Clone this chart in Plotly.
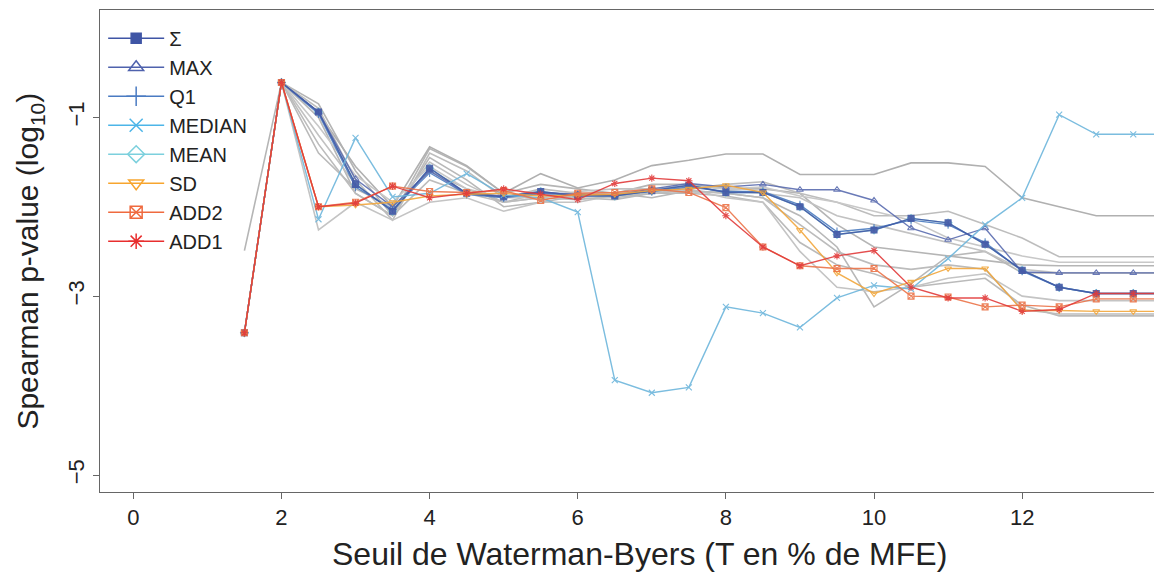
import plotly.graph_objects as go

# x positions (Waterman-Byers threshold, % of MFE)
x_vals = [1.5, 2, 2.5, 3, 3.5, 4, 4.5, 5, 5.5, 6, 6.5, 7, 7.5, 8, 8.5, 9, 9.5, 10,
          10.5, 11, 11.5, 12, 12.5, 13, 13.5, 14]

sigma = [-3.41, -0.61, -0.94, -1.75, -2.05, -1.57, -1.85, -1.89, -1.83, -1.88, -1.88, -1.82, -1.76,
         -1.84, -1.84, -2.00, -2.31, -2.26, -2.13, -2.18, -2.42, -2.71, -2.90, -2.97, -2.97, -2.97]
vmax = [-3.41, -0.61, -0.94, -1.69, -2.00, -1.60, -1.85, -1.88, -1.84, -1.86, -1.87, -1.80, -1.74,
        -1.78, -1.75, -1.81, -1.81, -1.93, -2.24, -2.37, -2.24, -2.73, -2.74, -2.74, -2.74, -2.74]
q1 = [-3.41, -0.61, -0.96, -1.78, -2.03, -1.62, -1.86, -1.90, -1.85, -1.87, -1.87, -1.83, -1.78,
      -1.83, -1.83, -1.98, -2.28, -2.24, -2.15, -2.20, -2.40, -2.72, -2.90, -2.97, -2.97, -2.97]
median = [-3.41, -0.61, -2.14, -1.23, -1.89, -1.85, -1.63, -1.87, -1.90, -2.06, -3.94, -4.08, -4.02,
          -3.12, -3.19, -3.35, -3.02, -2.88, -2.92, -2.58, -2.20, -1.90, -0.97, -1.19, -1.19, -1.19]
mean = [-3.41, -0.61, -0.94, -1.75, -2.05, -1.57, -1.85, -1.89, -1.83, -1.88, -1.88, -1.82, -1.76,
        -1.84, -1.84, -2.00, -2.31, -2.26, -2.13, -2.18, -2.42, -2.71, -2.90, -2.97, -2.97, -2.97]
sd = [-3.41, -0.61, -2.00, -1.98, -1.95, -1.88, -1.86, -1.85, -1.88, -1.87, -1.86, -1.82, -1.80,
      -1.76, -1.84, -2.26, -2.74, -2.97, -2.84, -2.69, -2.69, -3.16, -3.16, -3.17, -3.17, -3.17]
add2 = [-3.41, -0.61, -2.00, -1.95, -1.77, -1.83, -1.84, -1.82, -1.93, -1.85, -1.84, -1.80, -1.84,
        -2.01, -2.45, -2.66, -2.69, -2.69, -3.00, -3.01, -3.12, -3.10, -3.12, -3.03, -3.03, -3.03]
add1 = [-3.41, -0.61, -2.00, -1.96, -1.77, -1.90, -1.85, -1.80, -1.86, -1.92, -1.74, -1.68, -1.71,
        -2.10, -2.45, -2.66, -2.55, -2.49, -2.90, -3.02, -3.02, -3.17, -3.15, -2.97, -2.97, -2.97]

# background (unlabelled) series in grey
grey_series = [
    [-2.49, -0.61, -0.85, -1.60, -2.10, -1.35, -1.55, -1.85, -1.75, -1.80, -1.85, -1.75, -1.75,
     -1.80, -1.80, -1.85, -2.20, -2.45, -2.50, -2.55, -2.60, -2.65, -2.66, -2.66, -2.66, -2.66],
    [None, -0.61, -0.95, -1.55, -2.00, -1.33, -1.54, -1.85, -1.63, -1.79, -1.70, -1.54, -1.48,
     -1.41, -1.41, -1.64, -1.64, -1.64, -1.51, -1.51, -1.55, -1.90, -2.00, -2.10, -2.10, -2.10],
    [None, -0.61, -0.90, -1.70, -2.15, -1.40, -1.60, -1.90, -1.80, -1.85, -1.90, -1.85, -1.80,
     -1.75, -1.72, -1.85, -1.95, -2.10, -2.10, -2.05, -2.20, -2.35, -2.56, -2.56, -2.56, -2.56],
    [None, -0.61, -1.00, -1.85, -2.10, -1.45, -1.70, -2.00, -1.95, -1.88, -1.85, -1.90, -1.82,
     -1.85, -1.90, -2.10, -2.45, -3.12, -2.86, -2.55, -2.50, -2.74, -2.74, -2.74, -2.74, -2.74],
    [None, -0.61, -1.20, -1.75, -2.05, -1.50, -1.75, -1.95, -1.90, -1.83, -1.80, -1.80, -1.85,
     -1.82, -1.85, -1.90, -2.10, -2.20, -2.30, -2.40, -2.50, -2.70, -2.74, -2.74, -2.74, -2.74],
    [None, -0.61, -1.40, -1.80, -2.00, -1.60, -1.80, -1.95, -1.85, -1.90, -1.92, -1.85, -1.85,
     -1.88, -1.95, -2.40, -2.65, -2.75, -2.90, -2.85, -2.80, -3.10, -3.22, -3.22, -3.22, -3.22],
    [None, -0.61, -2.26, -1.95, -2.15, -1.95, -1.90, -2.05, -1.95, -1.95, -1.87, -1.83, -1.80,
     -1.90, -1.95, -2.50, -2.90, -2.95, -2.90, -2.80, -2.75, -3.00, -3.05, -3.05, -3.05, -3.05],
    [None, -0.61, -1.10, -1.65, -1.95, -1.55, -1.80, -1.90, -1.90, -1.85, -1.85, -1.80, -1.77,
     -1.80, -1.78, -1.88, -1.95, -2.05, -2.15, -2.35, -2.45, -2.55, -2.62, -2.62, -2.62, -2.62],
    [None, -0.61, -1.30, -1.85, -2.10, -1.70, -1.85, -1.95, -1.90, -1.92, -1.88, -1.85, -1.82,
     -1.85, -1.90, -2.20, -2.50, -2.65, -2.70, -2.65, -2.70, -3.15, -3.20, -3.20, -3.20, -3.20],
]
grey_colors = ["#b5b5b5", "#b0b0b0", "#bdbdbd", "#b8b8b8", "#c2c2c2", "#bababa", "#c4c4c4", "#c8c8c8", "#bcbcbc"]

series_names = ["Σ", "MAX", "Q1", "MEDIAN", "MEAN", "SD", "ADD2", "ADD1"]
series_values = [sigma, vmax, q1, median, mean, sd, add2, add1]
line_colors = ["#4459a6", "#5a6cb0", "#4b7cc0", "#6db6dc", "#7ccbd9", "#f2a73c", "#ec7449", "#e23b3b"]
legend_colors = ["#3f55a5", "#4f62ad", "#4a7bc2", "#4db5e8", "#7cd0dd", "#f7a52e", "#ef6a3f", "#e82e2e"]
symbols = ["square", "triangle-up-open", "cross-thin-open", "x-thin-open", "diamond-open",
           "triangle-down-open", "square-x-open", "asterisk-open"]
legend_sizes = [10, 13, 14, 13, 13, 13, 12, 13]

x_title = "Seuil de Waterman-Byers (T en % de MFE)"
y_title = "Spearman p-value (log<sub>10</sub>)"

fig = go.Figure()

for ys, c in zip(grey_series, grey_colors):
    fig.add_trace(go.Scatter(x=x_vals, y=ys, mode="lines", line=dict(color=c, width=1.6),
                             showlegend=False, hoverinfo="skip"))

plot_order = [4, 2, 1, 0, 3, 5, 6, 7]
for i in plot_order:
    fig.add_trace(go.Scatter(
        x=x_vals, y=series_values[i], mode="lines+markers", name=series_names[i],
        line=dict(color=line_colors[i], width=1.4),
        marker=dict(symbol=symbols[i], size=6, color=line_colors[i],
                    line=dict(color=line_colors[i], width=1.1)),
        opacity=0.9, showlegend=False))

# legend entries (larger markers, as in the original legend)
for i in range(len(series_names)):
    fig.add_trace(go.Scatter(
        x=[None], y=[None], mode="lines+markers", name=series_names[i],
        line=dict(color=legend_colors[i], width=1.6),
        marker=dict(symbol=symbols[i], size=legend_sizes[i], color=legend_colors[i],
                    line=dict(color=legend_colors[i], width=1.5)),
        showlegend=True))

font_family = "Liberation Sans, Arial, Helvetica, sans-serif"

fig.update_layout(
    width=1154, height=576,
    margin=dict(l=100, r=0, t=10, b=84),
    paper_bgcolor="white", plot_bgcolor="white",
    font=dict(family=font_family, color="#222222"),
    showlegend=True,
    legend=dict(x=0.003, y=0.982, xanchor="left", yanchor="top",
                bgcolor="rgba(255,255,255,0)", borderwidth=0,
                font=dict(size=20, color="#222222"), tracegroupgap=0,
                itemwidth=56),
    xaxis=dict(range=[-0.45, 13.78], tickvals=[0, 2, 4, 6, 8, 10, 12, 14],
               ticks="outside", ticklen=6, tickcolor="#666666", tickwidth=1,
               showline=True, linecolor="#666666", linewidth=1, mirror=True,
               showgrid=False, zeroline=False,
               tickfont=dict(size=22, color="#222222")),
    yaxis=dict(range=[-5.19, 0.2], tickvals=[-1, -3, -5], tickangle=-90,
               ticks="outside", ticklen=6, tickcolor="#666666", tickwidth=1,
               showline=True, linecolor="#666666", linewidth=1, mirror=False,
               showgrid=False, zeroline=False,
               tickfont=dict(size=22, color="#222222")),
    annotations=[
        dict(text=x_title, xref="paper", yref="paper", x=0.5123, y=-0.128,
             xanchor="center", yanchor="middle", showarrow=False,
             font=dict(size=32, color="#222222")),
        dict(text=y_title, xref="paper", yref="paper", x=-0.0664, y=0.478,
             xanchor="center", yanchor="middle", textangle=-90, showarrow=False,
             font=dict(size=30, color="#222222")),
    ],
)

fig.write_html("out.html")
